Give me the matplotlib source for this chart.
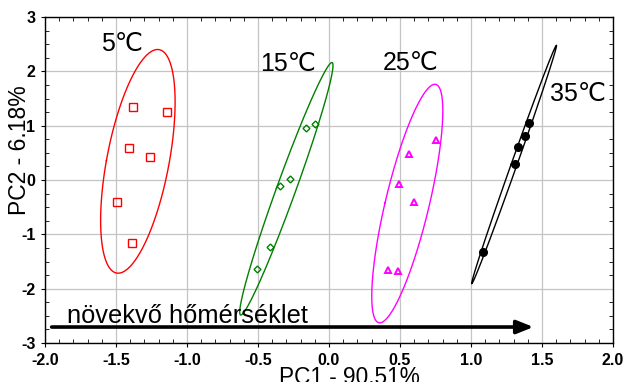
import numpy as np
import matplotlib
matplotlib.use("Agg")
import matplotlib.pyplot as plt
from matplotlib.ticker import MultipleLocator

plt.rcParams['font.family'] = ['Liberation Sans', 'DejaVu Sans']

# ---- data ----
x5 = [-1.380, -1.143, -1.408, -1.263, -1.493, -1.389]
y5 = [1.350, 1.257, 0.583, 0.429, -0.405, -1.154]
x15 = [-0.160, -0.096, -0.347, -0.277, -0.415, -0.507]
y15 = [0.957, 1.031, -0.116, 0.018, -1.227, -1.633]
x25 = [0.756, 0.561, 0.493, 0.596, 0.418, 0.484]
y25 = [0.736, 0.473, -0.068, -0.411, -1.651, -1.681]
x35 = [1.408, 1.383, 1.331, 1.310, 1.085]
y35 = [1.043, 0.816, 0.602, 0.289, -1.325]
group_labels = ['5\u2103', '15\u2103', '25\u2103', '35\u2103']
xlabel = 'PC1 - 90.51%'
ylabel = 'PC2 - 6.18%'
arrow_text = 'növekvő hőmérséklet'
xticks = [-2.0, -1.5, -1.0, -0.5, 0.0, 0.5, 1.0, 1.5, 2.0]
yticks = [-3, -2, -1, 0, 1, 2, 3]

groups = [(x5, y5), (x15, y15), (x25, y25), (x35, y35)]
colors = ['#ff0000', '#008000', '#ff00ff', '#000000']
markers = ['s', 'D', '^', 'o']
msizes = [5.5, 3.5, 5, 5.5]
mfaces = ['none', 'none', 'none', '#000000']
mews = [1.0, 1.0, 1.4, 1.0]
ell_scale = [2.12, 2.12, 2.12, 2.33]
label_pos = [(-1.606, 2.50), (-0.486, 2.14), (0.380, 2.15), (1.556, 1.58)]

fig = plt.figure(figsize=(6.26, 3.82), dpi=100)
ax = fig.add_axes([45/626, 1-343/382, 568/626, 326/382])
ax.set_xlim(-2, 2)
ax.set_ylim(-3, 3)

ax.grid(True, color='#c4c4c4', lw=0.9, zorder=0)
ax.set_axisbelow(True)

t = np.linspace(0, 2*np.pi, 400)
for (gx, gy), c, m, ms, mf, mew, k in zip(groups, colors, markers, msizes, mfaces, mews, ell_scale):
    gx = np.asarray(gx); gy = np.asarray(gy)
    mu = np.array([gx.mean(), gy.mean()])
    cov = np.cov(np.vstack([gx, gy]))
    vals, vecs = np.linalg.eigh(cov)
    circ = np.vstack([np.cos(t), np.sin(t)])
    pts = mu[:, None] + k * (vecs @ (np.sqrt(vals)[:, None] * circ))
    ax.plot(pts[0], pts[1], color=c, lw=1.0, zorder=2)
    ax.plot(gx, gy, linestyle='none', marker=m, markersize=ms, markerfacecolor=mf,
            markeredgecolor=c, markeredgewidth=mew, zorder=3)

for lab, (lx, ly) in zip(group_labels, label_pos):
    ax.text(lx, ly, lab, fontsize=18, ha='left', va='center', zorder=4)

ax.annotate('', xy=(1.44, -2.706), xytext=(-1.953, -2.706),
            arrowprops=dict(arrowstyle='-|>,head_length=1.0,head_width=0.4', lw=2.6, color='black',
                            shrinkA=0, shrinkB=0), zorder=4)
ax.text(-1.845, -2.632, arrow_text, fontsize=18.3, ha='left', va='baseline', zorder=4)

ax.set_xticks(xticks)
ax.set_xticklabels([f'{v:.1f}' for v in xticks])
ax.set_yticks(yticks)
ax.set_yticklabels([str(v) for v in yticks])
ax.xaxis.set_minor_locator(MultipleLocator(0.1))
ax.yaxis.set_minor_locator(MultipleLocator(0.25))
ax.tick_params(which='major', direction='out', length=3, width=0.8, labelsize=11.5, pad=4)
ax.tick_params(which='minor', direction='in', length=3, width=0.6, top=True, right=True)
for lab in ax.get_xticklabels() + ax.get_yticklabels():
    lab.set_fontweight('bold')
for s in ax.spines.values():
    s.set_linewidth(1.0)

fig.text(349/626, 1-(366/382), xlabel, fontsize=16.3, ha='center', va='top')
fig.text(20/626, 1-150/382, ylabel, fontsize=16.5, ha='center', va='center', rotation=90)

fig.savefig('out.png', dpi=100)
